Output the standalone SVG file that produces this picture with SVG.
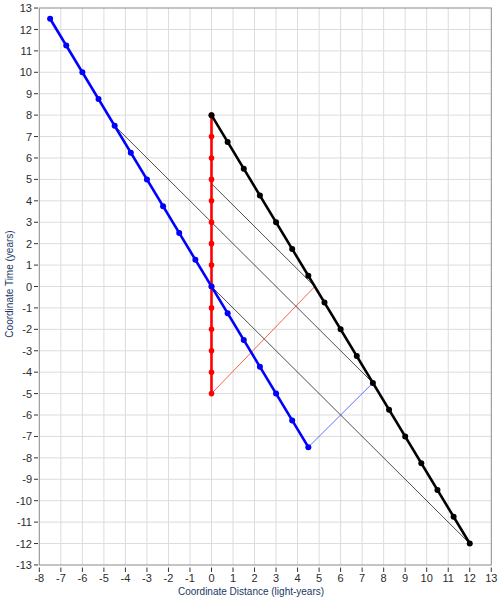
<svg xmlns="http://www.w3.org/2000/svg" width="499" height="600" viewBox="0 0 499 600">
<style>
.grid line{stroke:#dcdcdc;stroke-width:1}
.tick{stroke:#333;stroke-width:1}
.lbl{font-family:"Liberation Sans",Arial,sans-serif;font-size:11px;fill:#2b2b2b}
.title{font-family:"Liberation Sans",Arial,sans-serif;font-size:10px;fill:#203864}
.thin{fill:none;stroke-width:0.8}
.thick{fill:none;stroke-width:2.6;stroke-linejoin:round}
</style>
<rect width="499" height="600" fill="#fff"/>
<g class="grid">
<line x1="60.86" y1="8" x2="60.86" y2="565"/><line x1="82.38" y1="8" x2="82.38" y2="565"/><line x1="103.9" y1="8" x2="103.9" y2="565"/><line x1="125.42" y1="8" x2="125.42" y2="565"/><line x1="146.94" y1="8" x2="146.94" y2="565"/><line x1="168.46" y1="8" x2="168.46" y2="565"/><line x1="189.98" y1="8" x2="189.98" y2="565"/><line x1="211.5" y1="8" x2="211.5" y2="565"/><line x1="233.02" y1="8" x2="233.02" y2="565"/><line x1="254.54" y1="8" x2="254.54" y2="565"/><line x1="276.06" y1="8" x2="276.06" y2="565"/><line x1="297.58" y1="8" x2="297.58" y2="565"/><line x1="319.1" y1="8" x2="319.1" y2="565"/><line x1="340.62" y1="8" x2="340.62" y2="565"/><line x1="362.14" y1="8" x2="362.14" y2="565"/><line x1="383.66" y1="8" x2="383.66" y2="565"/><line x1="405.18" y1="8" x2="405.18" y2="565"/><line x1="426.7" y1="8" x2="426.7" y2="565"/><line x1="448.22" y1="8" x2="448.22" y2="565"/><line x1="469.74" y1="8" x2="469.74" y2="565"/>
<line x1="39.3" y1="29.46" x2="491.3" y2="29.46"/><line x1="39.3" y1="50.88" x2="491.3" y2="50.88"/><line x1="39.3" y1="72.3" x2="491.3" y2="72.3"/><line x1="39.3" y1="93.72" x2="491.3" y2="93.72"/><line x1="39.3" y1="115.14" x2="491.3" y2="115.14"/><line x1="39.3" y1="136.56" x2="491.3" y2="136.56"/><line x1="39.3" y1="157.98" x2="491.3" y2="157.98"/><line x1="39.3" y1="179.4" x2="491.3" y2="179.4"/><line x1="39.3" y1="200.82" x2="491.3" y2="200.82"/><line x1="39.3" y1="222.24" x2="491.3" y2="222.24"/><line x1="39.3" y1="243.66" x2="491.3" y2="243.66"/><line x1="39.3" y1="265.08" x2="491.3" y2="265.08"/><line x1="39.3" y1="286.5" x2="491.3" y2="286.5"/><line x1="39.3" y1="307.92" x2="491.3" y2="307.92"/><line x1="39.3" y1="329.34" x2="491.3" y2="329.34"/><line x1="39.3" y1="350.76" x2="491.3" y2="350.76"/><line x1="39.3" y1="372.18" x2="491.3" y2="372.18"/><line x1="39.3" y1="393.6" x2="491.3" y2="393.6"/><line x1="39.3" y1="415.02" x2="491.3" y2="415.02"/><line x1="39.3" y1="436.44" x2="491.3" y2="436.44"/><line x1="39.3" y1="457.86" x2="491.3" y2="457.86"/><line x1="39.3" y1="479.28" x2="491.3" y2="479.28"/><line x1="39.3" y1="500.7" x2="491.3" y2="500.7"/><line x1="39.3" y1="522.12" x2="491.3" y2="522.12"/><line x1="39.3" y1="543.54" x2="491.3" y2="543.54"/>
</g>
<rect x="39.3" y="8" width="452" height="557" fill="none" stroke="#8a8a8a" stroke-width="1"/>
<g id="axes">
<path class="tick" d="M34,8.04H38M34,29.46H38M34,50.88H38M34,72.3H38M34,93.72H38M34,115.14H38M34,136.56H38M34,157.98H38M34,179.4H38M34,200.82H38M34,222.24H38M34,243.66H38M34,265.08H38M34,286.5H38M34,307.92H38M34,329.34H38M34,350.76H38M34,372.18H38M34,393.6H38M34,415.02H38M34,436.44H38M34,457.86H38M34,479.28H38M34,500.7H38M34,522.12H38M34,543.54H38M34,564.96H38"/>
<path class="tick" d="M39.34,567.5V572M60.86,567.5V572M82.38,567.5V572M103.9,567.5V572M125.42,567.5V572M146.94,567.5V572M168.46,567.5V572M189.98,567.5V572M211.5,567.5V572M233.02,567.5V572M254.54,567.5V572M276.06,567.5V572M297.58,567.5V572M319.1,567.5V572M340.62,567.5V572M362.14,567.5V572M383.66,567.5V572M405.18,567.5V572M426.7,567.5V572M448.22,567.5V572M469.74,567.5V572M491.26,567.5V572"/>
<g class="lbl" text-anchor="end">
<text x="32" y="12">13</text><text x="32" y="33.5">12</text><text x="32" y="54.9">11</text><text x="32" y="76.3">10</text><text x="32" y="97.7">9</text><text x="32" y="119.1">8</text><text x="32" y="140.6">7</text><text x="32" y="162">6</text><text x="32" y="183.4">5</text><text x="32" y="204.8">4</text><text x="32" y="226.2">3</text><text x="32" y="247.7">2</text><text x="32" y="269.1">1</text><text x="32" y="290.5">0</text><text x="32" y="311.9">-1</text><text x="32" y="333.3">-2</text><text x="32" y="354.8">-3</text><text x="32" y="376.2">-4</text><text x="32" y="397.6">-5</text><text x="32" y="419">-6</text><text x="32" y="440.4">-7</text><text x="32" y="461.9">-8</text><text x="32" y="483.3">-9</text><text x="32" y="504.7">-10</text><text x="32" y="526.1">-11</text><text x="32" y="547.5">-12</text><text x="32" y="569">-13</text>
</g>
<g class="lbl" text-anchor="middle">
<text x="39.34" y="582">-8</text><text x="60.86" y="582">-7</text><text x="82.38" y="582">-6</text><text x="103.9" y="582">-5</text><text x="125.42" y="582">-4</text><text x="146.94" y="582">-3</text><text x="168.46" y="582">-2</text><text x="189.98" y="582">-1</text><text x="211.5" y="582">0</text><text x="233.02" y="582">1</text><text x="254.54" y="582">2</text><text x="276.06" y="582">3</text><text x="297.58" y="582">4</text><text x="319.1" y="582">5</text><text x="340.62" y="582">6</text><text x="362.14" y="582">7</text><text x="383.66" y="582">8</text><text x="405.18" y="582">9</text><text x="426.7" y="582">10</text><text x="448.22" y="582">11</text><text x="469.74" y="582">12</text><text x="491.26" y="582">13</text>
</g>
<text class="title" x="251" y="595" text-anchor="middle">Coordinate Distance (light-years)</text>
<text class="title" x="0" y="0" text-anchor="middle" transform="translate(13,284) rotate(-90)">Coordinate Time (years)</text>
</g>
<g id="connectors">
<line class="thin" stroke="#222" x1="114.66" y1="125.85" x2="372.9" y2="382.89"/>
<line class="thin" stroke="#222" x1="211.5" y1="183.68" x2="314.8" y2="286.5"/>
<line class="thin" stroke="#222" x1="211.5" y1="286.5" x2="469.74" y2="543.54"/>
<line class="thin" stroke="#f03c1e" x1="211.5" y1="393.6" x2="314.8" y2="286.5"/>
<line class="thin" stroke="#3250ff" x1="308.34" y1="447.15" x2="372.9" y2="382.89"/>
</g>
<g id="red-worldline" fill="#ff0000">
<line class="thick" stroke="#ff0000" x1="211.5" y1="115.14" x2="211.5" y2="393.6"/>
<circle cx="211.5" cy="115.14" r="2.8"/><circle cx="211.5" cy="136.56" r="2.8"/><circle cx="211.5" cy="157.98" r="2.8"/><circle cx="211.5" cy="179.4" r="2.8"/><circle cx="211.5" cy="200.82" r="2.8"/><circle cx="211.5" cy="222.24" r="2.8"/><circle cx="211.5" cy="243.66" r="2.8"/><circle cx="211.5" cy="265.08" r="2.8"/><circle cx="211.5" cy="286.5" r="2.8"/><circle cx="211.5" cy="307.92" r="2.8"/><circle cx="211.5" cy="329.34" r="2.8"/><circle cx="211.5" cy="350.76" r="2.8"/><circle cx="211.5" cy="372.18" r="2.8"/><circle cx="211.5" cy="393.6" r="2.8"/>
</g>
<g id="blue-worldline" fill="#0000ff">
<line class="thick" stroke="#0000ff" x1="50.1" y1="18.75" x2="308.34" y2="447.15"/>
<circle cx="50.1" cy="18.75" r="3"/><circle cx="66.24" cy="45.53" r="3"/><circle cx="82.38" cy="72.3" r="3"/><circle cx="98.52" cy="99.08" r="3"/><circle cx="114.66" cy="125.85" r="3"/><circle cx="130.8" cy="152.63" r="3"/><circle cx="146.94" cy="179.4" r="3"/><circle cx="163.08" cy="206.18" r="3"/><circle cx="179.22" cy="232.95" r="3"/><circle cx="195.36" cy="259.73" r="3"/><circle cx="211.5" cy="286.5" r="3"/><circle cx="227.64" cy="313.28" r="3"/><circle cx="243.78" cy="340.05" r="3"/><circle cx="259.92" cy="366.83" r="3"/><circle cx="276.06" cy="393.6" r="3"/><circle cx="292.2" cy="420.38" r="3"/><circle cx="308.34" cy="447.15" r="3"/>
</g>
<g id="black-worldline" fill="#000">
<line class="thick" stroke="#000" x1="211.5" y1="115.14" x2="469.74" y2="543.54"/>
<circle cx="211.5" cy="115.14" r="3"/><circle cx="227.64" cy="141.92" r="3"/><circle cx="243.78" cy="168.69" r="3"/><circle cx="259.92" cy="195.47" r="3"/><circle cx="276.06" cy="222.24" r="3"/><circle cx="292.2" cy="249.02" r="3"/><circle cx="308.34" cy="275.79" r="3"/><circle cx="324.48" cy="302.57" r="3"/><circle cx="340.62" cy="329.34" r="3"/><circle cx="356.76" cy="356.12" r="3"/><circle cx="372.9" cy="382.89" r="3"/><circle cx="389.04" cy="409.67" r="3"/><circle cx="405.18" cy="436.44" r="3"/><circle cx="421.32" cy="463.22" r="3"/><circle cx="437.46" cy="489.99" r="3"/><circle cx="453.6" cy="516.77" r="3"/><circle cx="469.74" cy="543.54" r="3"/>
</g>
</svg>
